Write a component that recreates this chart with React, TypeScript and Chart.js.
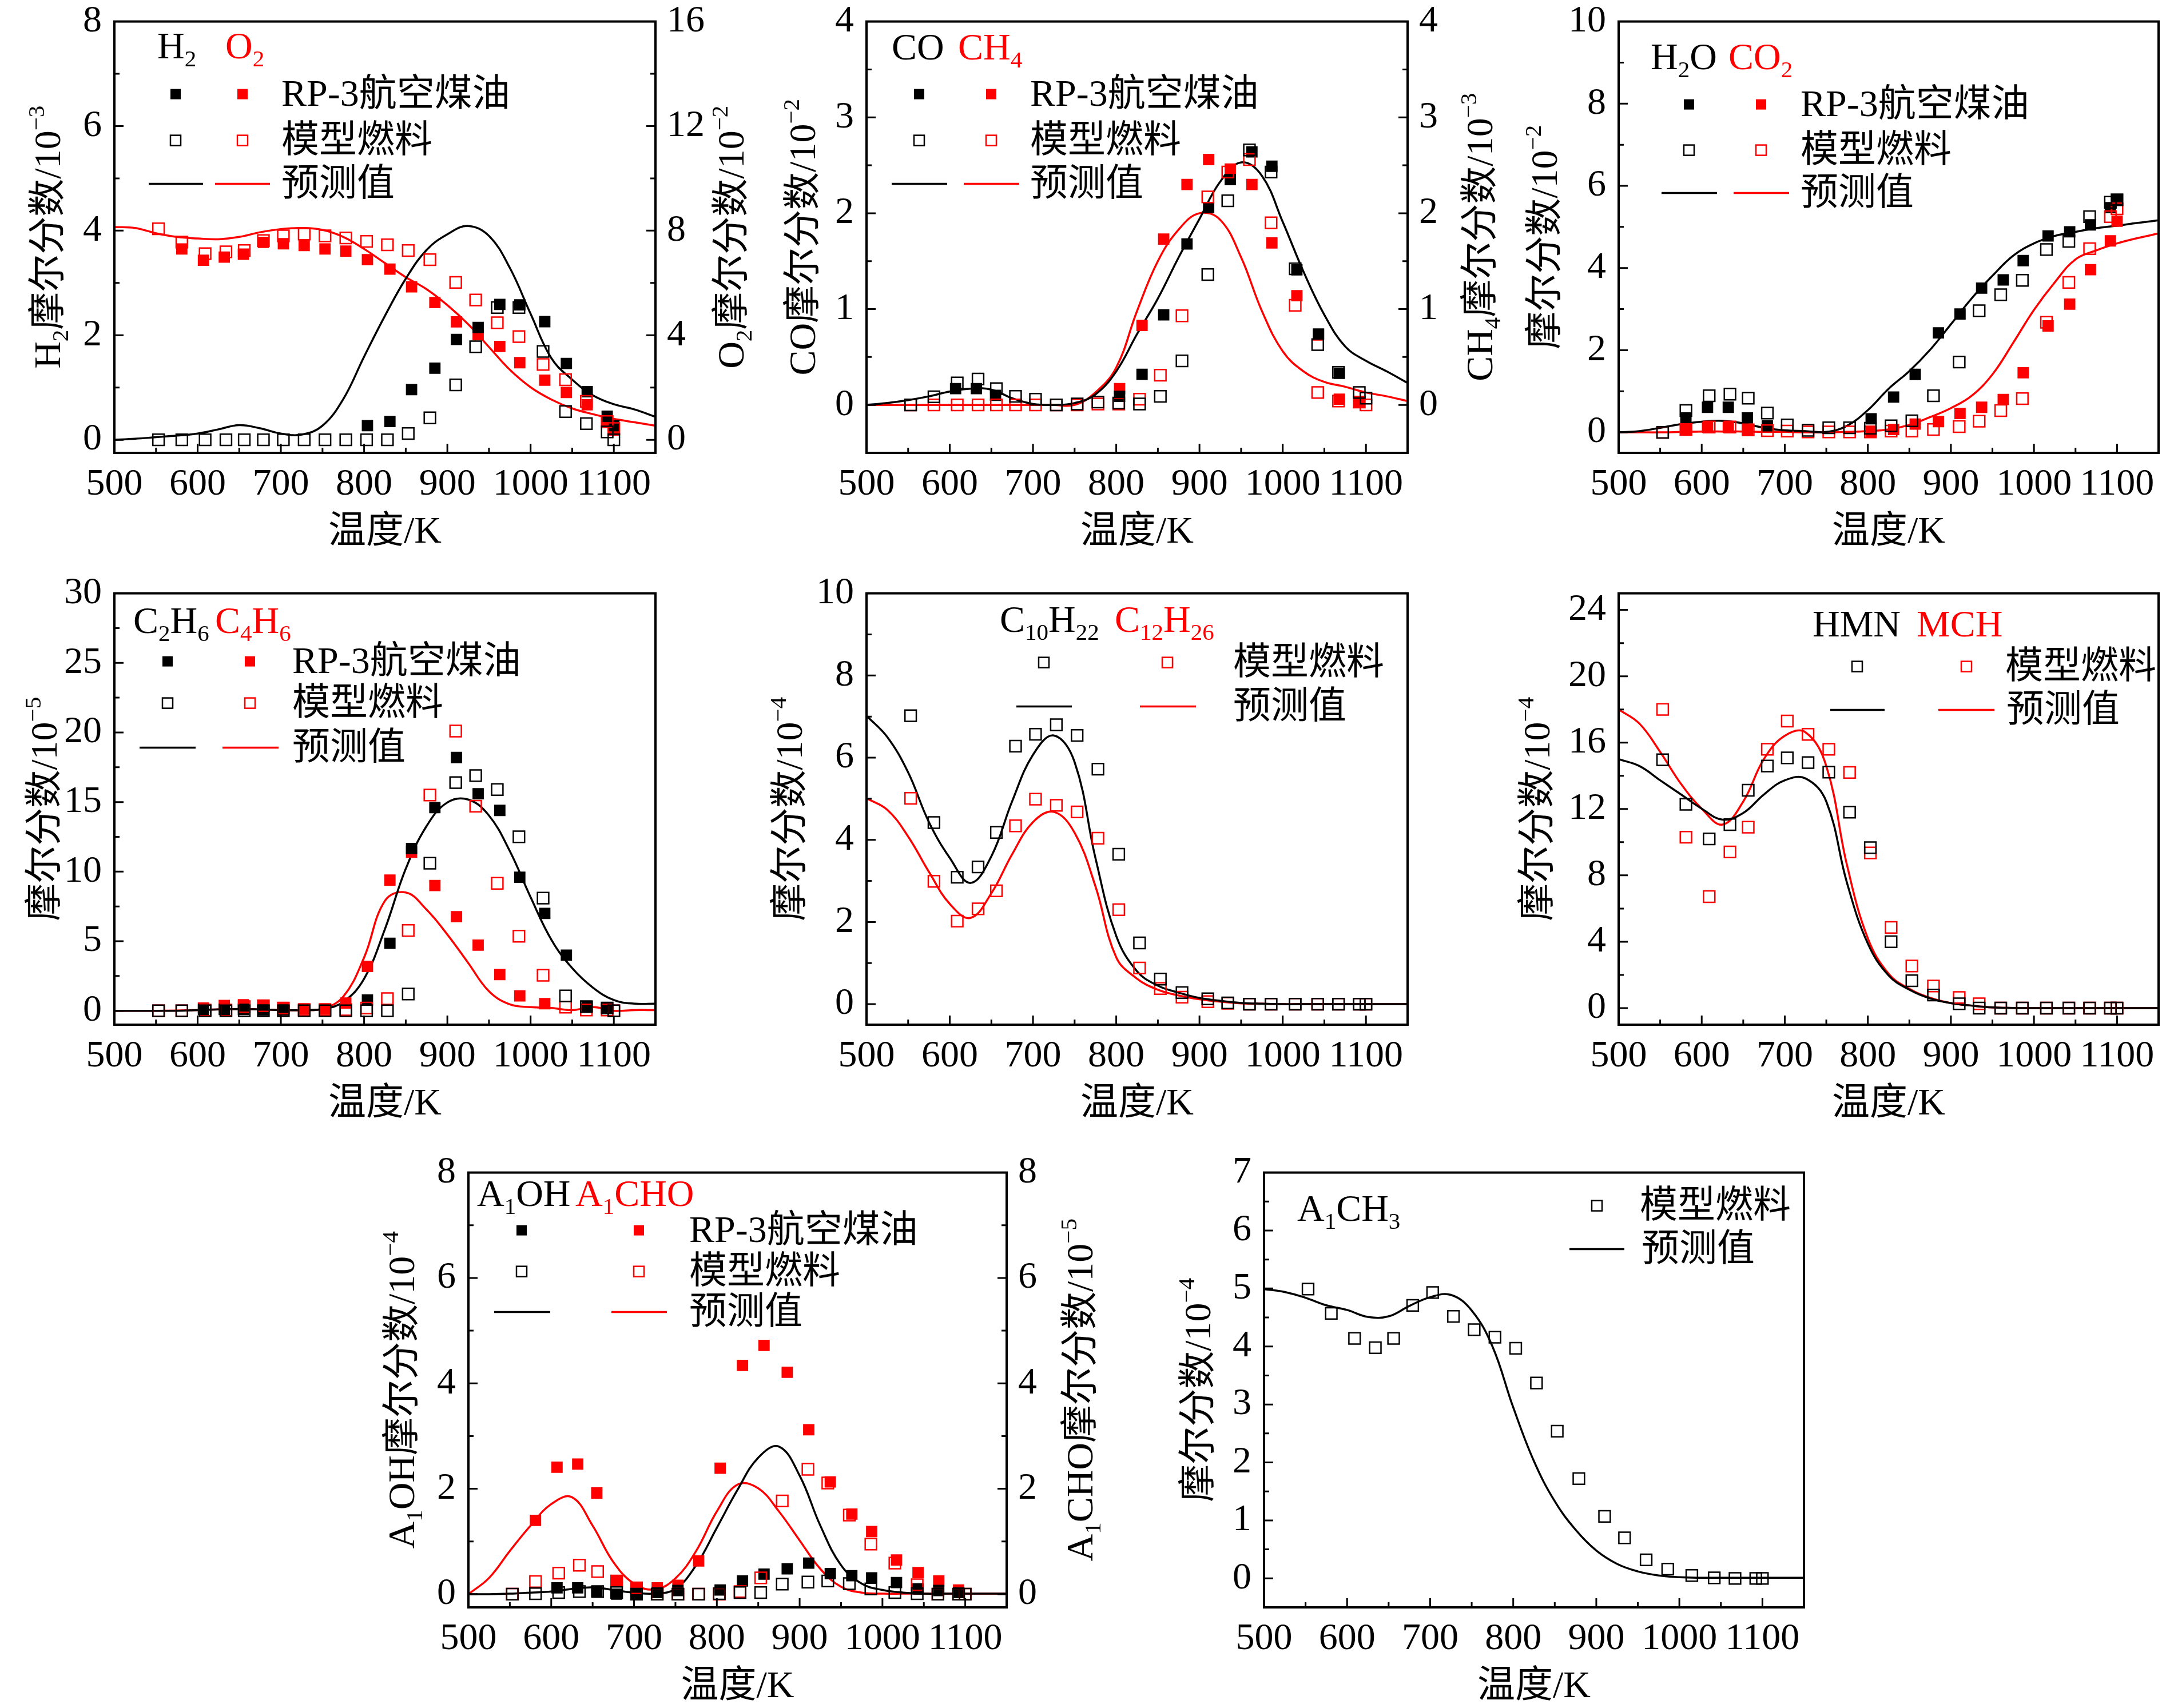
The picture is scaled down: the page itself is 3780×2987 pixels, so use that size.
import React, { useEffect, useRef } from 'react';
import { Chart, registerables } from 'chart.js';

Chart.register(...registerables);

// sample temperatures (K)
const T_MODEL = [553, 581, 609, 634, 656, 679, 703, 728, 753, 778, 803, 828, 853, 879, 910, 934, 960, 986, 1015, 1042, 1067, 1092, 1100];
const T_RP3 = [581, 607, 632, 655, 679, 703, 728, 753, 778, 804, 831, 857, 885, 911, 937, 963, 987, 1017, 1043, 1068, 1092, 1100];
const T_LINE = [500, 525, 550, 575, 600, 625, 650, 675, 700, 725, 750, 775, 800, 825, 850, 875, 900, 925, 950, 975, 1000, 1025, 1050, 1075, 1100, 1125, 1150];
const X_TICKS = [500, 600, 700, 800, 900, 1000, 1100];

// H2 (10^-3) / O2 (10^-2)
const H2_RP3 = [null, null, null, null, null, null, null, null, null, 0.27, 0.35, 0.96, 1.37, 1.92, 2.15, 2.59, 2.58, 2.26, 1.46, 0.92, 0.45, 0.27];
const H2_MODEL = [0, 0, 0, 0, 0, 0, 0, 0, 0, 0, 0, 0, 0.12, 0.42, 1.05, 1.78, 2.53, 2.53, 1.69, 0.54, 0.31, 0.15, 0];
const H2_PRED = [0, 0.02, 0.05, 0.08, 0.12, 0.2, 0.28, 0.22, 0.12, 0.1, 0.27, 0.78, 1.59, 2.37, 3.08, 3.63, 3.93, 4.09, 3.9, 3.29, 2.41, 1.56, 1.15, 0.85, 0.68, 0.58, 0.44];
const O2_RP3 = [7.3, 6.87, 6.99, 7.1, 7.55, 7.5, 7.43, 7.3, 7.22, 6.89, 6.53, 5.85, 5.25, 4.51, 4.02, 3.57, 2.95, 2.28, 1.81, 1.34, 0.67, 0.37];
const O2_MODEL = [8.07, 7.56, 7.12, 7.19, 7.24, 7.62, 7.8, 7.87, 7.8, 7.72, 7.59, 7.46, 7.24, 6.89, 6.02, 5.35, 4.48, 3.95, 2.88, 2.3, 1.47, 0.7, 0.43];
const O2_PRED = [8.14, 8.1, 7.9, 7.76, 7.7, 7.67, 7.76, 7.94, 8.06, 8.1, 8.03, 7.76, 7.3, 6.76, 6.22, 5.76, 5.15, 4.42, 3.55, 2.68, 2.01, 1.54, 1.2, 0.98, 0.8, 0.67, 0.54];

// CO (10^-2) / CH4 (10^-3)
const CO_RP3 = [null, 0.17, 0.17, 0.1, null, null, null, null, null, 0.09, 0.32, 0.94, 1.68, 2.06, 2.35, 2.64, 2.49, 1.41, 0.74, 0.33, null, null];
const CO_MODEL = [0, 0.085, 0.23, 0.27, 0.17, 0.09, 0.06, 0, 0.01, 0.03, 0.02, 0.01, 0.09, 0.46, 1.36, 2.13, 2.66, 2.43, 1.42, 0.63, 0.34, 0.13, 0.07];
const CO_PRED = [0, 0.02, 0.05, 0.09, 0.14, 0.17, 0.16, 0.07, 0.01, 0, 0.02, 0.11, 0.35, 0.74, 1.11, 1.54, 1.94, 2.33, 2.53, 2.39, 1.91, 1.39, 0.94, 0.61, 0.46, 0.35, 0.23];
const CH4_RP3 = [null, null, null, null, null, null, null, null, null, 0.17, 0.83, 1.73, 2.3, 2.56, 2.46, 2.3, 1.69, 1.14, 0.73, 0.06, 0.03, null];
const CH4_MODEL = [0, 0, 0, 0, 0, 0, 0, 0, 0, 0.01, 0.01, 0.06, 0.31, 0.93, 2.17, 2.43, 2.56, 1.9, 1.04, 0.13, 0.04, 0.03, 0];
const CH4_PRED = [0, 0, 0, 0, 0, 0, 0, 0, 0, 0, 0, 0.13, 0.39, 0.98, 1.5, 1.83, 2.0, 1.93, 1.54, 0.98, 0.56, 0.35, 0.24, 0.19, 0.13, 0.09, 0.04];

// H2O / CO2 (10^-2)
const H2O_RP3 = [0.35, 0.61, 0.61, 0.35, 0.16, null, null, null, null, 0.33, 0.86, 1.41, 2.42, 2.88, 3.51, 3.71, 4.18, 4.78, 4.88, 5.05, 5.47, 5.66];
const H2O_MODEL = [0, 0.53, 0.89, 0.93, 0.83, 0.47, 0.18, 0.05, 0.11, 0.11, 0.1, 0.16, 0.28, 0.89, 1.71, 2.96, 3.35, 3.7, 4.45, 4.65, 5.25, 5.6, 5.66];
const H2O_PRED = [0, 0.03, 0.11, 0.2, 0.26, 0.28, 0.22, 0.11, 0.05, 0.03, 0.01, 0.16, 0.54, 1.06, 1.49, 2.01, 2.63, 3.26, 3.81, 4.3, 4.6, 4.78, 4.88, 4.97, 5.03, 5.1, 5.16];
const CO2_RP3 = [0.08, 0.12, 0.12, 0.06, null, null, null, null, null, 0.02, 0.07, 0.2, 0.26, 0.46, 0.61, 0.8, 1.45, 2.59, 3.12, 3.96, 4.66, 5.14];
const CO2_MODEL = [0, 0.07, 0.13, 0.13, 0.06, 0.04, 0.03, 0.01, 0.01, 0.01, 0.01, 0.03, 0.03, 0.07, 0.14, 0.27, 0.53, 0.82, 2.68, 3.65, 4.47, 5.25, 5.44];
const CO2_PRED = [0, 0, 0, 0.01, 0.02, 0.02, 0.02, 0.01, 0.01, 0, 0, 0.01, 0.03, 0.07, 0.18, 0.37, 0.59, 0.89, 1.41, 2.18, 2.98, 3.65, 4.21, 4.43, 4.6, 4.73, 4.84];

// C2H6 / C4H6 (10^-5)
const C2H6_RP3 = [null, 0.1, 0.1, 0.1, 0.05, 0.05, null, null, null, 0.77, 4.85, 11.66, 14.6, 18.2, 15.6, 14.4, 9.6, 7.0, 4.0, 0.3, 0.2, null];
const C2H6_MODEL = [0, 0, 0, 0, 0, 0, 0, 0, 0, 0, 0, 0, 1.2, 10.6, 16.4, 16.9, 15.9, 12.5, 8.1, 1.07, 0.3, 0.2, 0];
const C2H6_PRED = [0, 0, 0, 0, 0.05, 0.1, 0.12, 0.1, 0.05, 0.05, 0.12, 0.64, 2.3, 5.87, 10.2, 13.27, 14.97, 15.18, 14.03, 11.48, 8.16, 5.1, 3.06, 1.66, 0.77, 0.51, 0.51];
const C4H6_RP3 = [null, 0.2, 0.38, 0.43, 0.38, 0.2, 0.13, 0.13, 0.56, 3.19, 9.39, 11.4, 9.0, 6.76, 4.72, 2.6, 1.07, 0.51, null, null, null, null];
const C4H6_MODEL = [0, 0, 0.05, 0.05, 0.3, 0.36, 0.2, 0.08, 0.08, 0.08, 0.2, 0.87, 5.77, 15.5, 20.1, 14.7, 9.16, 5.36, 2.55, 0.26, 0.05, 0.05, 0];
const C4H6_PRED = [0, 0, 0, 0.02, 0.05, 0.1, 0.13, 0.1, 0.05, 0.05, 0.15, 1.02, 3.83, 7.9, 8.5, 7.27, 5.48, 3.44, 1.4, 0.46, 0.26, 0.2, 0.05, 0.26, 0, 0.05, 0.05];

// C10H22 / C12H26 (10^-4)
const C10_MODEL = [7.02, 4.42, 3.09, 3.34, 4.18, 6.28, 6.57, 6.8, 6.54, 5.72, 3.65, 1.49, 0.61, 0.28, 0.13, 0.03, 0, 0, 0, 0, 0, 0, 0];
const C10_PRED = [7.02, 6.5, 5.64, 4.43, 3.56, 2.95, 3.6, 4.94, 6.07, 6.54, 5.89, 3.56, 1.66, 0.8, 0.45, 0.28, 0.15, 0.08, 0.03, 0.01, 0, 0, 0, 0, 0, 0, 0];
const C12_MODEL = [5.01, 2.99, 2.02, 2.32, 2.76, 4.34, 4.99, 4.84, 4.68, 4.04, 2.3, 0.88, 0.38, 0.17, 0.06, 0.02, 0, 0, 0, 0, 0, 0, 0];
const C12_PRED = [5.01, 4.73, 4.08, 3.22, 2.44, 2.1, 2.7, 3.65, 4.43, 4.68, 4.17, 2.87, 1.14, 0.62, 0.35, 0.21, 0.12, 0.06, 0.02, 0.01, 0, 0, 0, 0, 0, 0, 0];

// HMN / MCH (10^-4)
const HMN_MODEL = [14.97, 12.28, 10.2, 11.06, 13.13, 14.59, 15.08, 14.8, 14.22, 11.81, 9.67, 4.0, 1.65, 0.79, 0.26, 0, 0, 0, 0, 0, 0, 0, 0];
const HMN_PRED = [15.0, 14.59, 13.73, 12.88, 12.02, 11.36, 11.76, 12.88, 13.73, 13.84, 12.45, 7.53, 3.89, 1.97, 1.11, 0.58, 0.3, 0.15, 0.04, 0.01, 0, 0, 0, 0, 0, 0, 0];
const MCH_MODEL = [18.0, 10.3, 6.72, 9.41, 10.9, 15.6, 17.3, 16.5, 15.6, 14.2, 9.35, 4.86, 2.54, 1.33, 0.64, 0.26, 0, 0, 0, 0, 0, 0, 0];
const MCH_PRED = [18.0, 17.15, 15.44, 13.52, 12.02, 11.06, 12.45, 15.02, 16.41, 16.62, 14.59, 8.6, 4.21, 2.07, 1.16, 0.62, 0.3, 0.15, 0.04, 0.01, 0, 0, 0, 0, 0, 0, 0];

// A1OH (10^-4) / A1CHO (10^-5)
const A1OH_RP3 = [null, 0.12, 0.12, 0.05, 0, 0.01, 0.03, 0.07, null, 0.08, 0.25, 0.38, 0.48, 0.59, 0.39, 0.35, 0.31, 0.22, 0.1, 0.07, 0.03, null];
const A1OH_MODEL = [0, 0.01, 0.03, 0.05, 0.05, 0.03, 0, 0, 0, 0, 0.01, 0.03, 0.03, 0.19, 0.23, 0.25, 0.2, 0.1, 0.03, 0.01, 0, 0, 0];
const A1OH_PRED = [0, 0, 0.01, 0.03, 0.05, 0.1, 0.13, 0.08, 0.03, 0.01, 0.1, 0.55, 1.26, 1.98, 2.59, 2.8, 2.25, 1.3, 0.55, 0.2, 0.08, 0.03, 0.01, 0.01, 0.01, 0.01, 0.01];
const A1CHO_RP3 = [1.4, 2.41, 2.47, 1.92, 0.26, 0.12, 0.12, 0.17, 0.63, 2.39, 4.34, 4.72, 4.21, 3.12, 2.13, 1.52, 1.19, 0.65, 0.41, 0.25, 0.08, null];
const A1CHO_MODEL = [0, 0.24, 0.4, 0.55, 0.43, 0.25, 0.12, 0, 0, 0, 0, 0.05, 0.31, 1.77, 2.37, 2.11, 1.5, 0.95, 0.59, 0.18, 0, 0, 0];
const A1CHO_PRED = [0, 0.31, 0.82, 1.3, 1.71, 1.84, 1.3, 0.61, 0.2, 0.09, 0.3, 0.82, 1.57, 2.08, 2.01, 1.57, 1.02, 0.48, 0.14, 0.03, 0.01, 0.01, 0.01, 0.01, 0.01, 0.01, 0.01];

// A1CH3 (10^-4)
const A1CH3_MODEL = [4.99, 4.57, 4.14, 3.98, 4.14, 4.71, 4.93, 4.52, 4.29, 4.16, 3.97, 3.37, 2.54, 1.72, 1.07, 0.7, 0.32, 0.16, 0.05, 0.01, 0, 0, 0];
const A1CH3_PRED = [4.99, 4.94, 4.84, 4.71, 4.63, 4.51, 4.52, 4.7, 4.85, 4.89, 4.62, 4.0, 2.95, 2.02, 1.33, 0.84, 0.48, 0.25, 0.12, 0.05, 0.02, 0.01, 0.01, 0.01, 0.01, 0.01, 0.01];

const RED = '#ff0000';
const BLACK = '#000000';
const FONT = '"Liberation Serif", "Times New Roman", "Noto Sans CJK SC", serif';
const FS = 66;
const L = 200; // room left of plot
const T = 60; // room above plot
const B = 200; // room below plot
const PR = 14; // point radius

type Seg = { t: string; s?: 'sub' | 'sup' };
const tx = (t: string): Seg => ({ t });
const sb = (t: string): Seg => ({ t, s: 'sub' });
const sp = (t: string): Seg => ({ t, s: 'sup' });

function pts(xs: number[], ys: (number | null)[]) {
  const out: { x: number; y: number }[] = [];
  xs.forEach((x, i) => {
    const y = ys[i];
    if (y !== null && y !== undefined) out.push({ x, y });
  });
  return out;
}
const hollow = (xs: number[], ys: any[], c: string, axis = 'y') => ({
  data: pts(xs, ys), showLine: false, pointStyle: 'rect', pointRadius: PR,
  pointBorderWidth: 2.5, pointBorderColor: c, pointBackgroundColor: 'rgba(0,0,0,0)', yAxisID: axis,
});
const filled = (xs: number[], ys: any[], c: string, axis = 'y') => ({
  data: pts(xs, ys), showLine: false, pointStyle: 'rect', pointRadius: PR,
  pointBorderWidth: 0, pointBackgroundColor: c, yAxisID: axis,
});
const curve = (ys: number[], c: string, axis = 'y') => ({
  data: pts(T_LINE, ys), borderColor: c, borderWidth: 3.5, pointRadius: 0, tension: 0.4, fill: false, yAxisID: axis,
});

const segFont = (size: number, g: Seg) => `${g.s ? Math.round(size * 0.62) : size}px ${FONT}`;
function richWidth(ctx: CanvasRenderingContext2D, segs: Seg[], size: number) {
  let w = 0;
  for (const g of segs) { ctx.font = segFont(size, g); w += ctx.measureText(g.t).width; }
  return w;
}
function drawRich(ctx: CanvasRenderingContext2D, x: number, y: number, segs: Seg[], size: number, color: string, center = false) {
  let cx = center ? x - richWidth(ctx, segs, size) / 2 : x;
  ctx.fillStyle = color;
  ctx.textAlign = 'left';
  ctx.textBaseline = 'alphabetic';
  for (const g of segs) {
    ctx.font = segFont(size, g);
    const dy = g.s === 'sub' ? size * 0.22 : g.s === 'sup' ? -size * 0.42 : 0;
    ctx.fillText(g.t, cx, y + dy);
    cx += ctx.measureText(g.t).width;
  }
}

const row3 = (ys: number[], cols: number[], lineX: number[][], textX: number) => [
  { y: ys[0], marks: [{ k: 'f', x: cols[0], c: BLACK }, { k: 'f', x: cols[1], c: RED }], text: 'RP-3航空煤油', tx: textX },
  { y: ys[1], marks: [{ k: 'h', x: cols[0], c: BLACK }, { k: 'h', x: cols[1], c: RED }], text: '模型燃料', tx: textX },
  { y: ys[2], marks: [{ k: 'l', x: lineX[0][0], x2: lineX[0][1], c: BLACK }, { k: 'l', x: lineX[1][0], x2: lineX[1][1], c: RED }], text: '预测值', tx: textX },
];

const fuelSets = (bm: any[], rm: any[], bf: any[] | null, rf: any[] | null, bp: number[], rp: number[], rAxis = 'y') => {
  const ds: any[] = [hollow(T_MODEL, bm, BLACK), hollow(T_MODEL, rm, RED, rAxis)];
  if (bf) ds.push(filled(T_RP3, bf, BLACK));
  if (rf) ds.push(filled(T_RP3, rf, RED, rAxis));
  ds.push(curve(bp, BLACK), curve(rp, RED, rAxis));
  return ds;
};

const PANELS: any[] = [
  {
    left: 200, right: 1146, top: 36, bottom: 792,
    y: { min: -0.25, max: 8, step: 2 }, y2: { min: -0.5, max: 16, step: 4 },
    yTitle: [tx('H'), sb('2'), tx('摩尔分数/10'), sp('−3')], yTitleX: -117,
    y2Title: [tx('O'), sb('2'), tx('摩尔分数/10'), sp('−2')], y2TitleX: 132,
    species: { y: 64, items: [{ x: 75, segs: [tx('H'), sb('2')], c: BLACK }, { x: 194, segs: [tx('O'), sb('2')], c: RED }] },
    rows: row3([127, 208, 284], [107, 224], [[60, 155], [176, 272]], 292),
    datasets: fuelSets(H2_MODEL, O2_MODEL, H2_RP3, O2_RP3, H2_PRED, O2_PRED, 'y2'),
  },
  {
    left: 1515, right: 2461, top: 36, bottom: 792,
    y: { min: -0.5, max: 4, step: 1 }, y2: { min: -0.5, max: 4, step: 1 },
    yTitle: [tx('CO摩尔分数/10'), sp('−2')], yTitleX: -112,
    y2Title: [tx('CH'), sb('4'), tx('摩尔分数/10'), sp('−3')], y2TitleX: 126,
    species: { y: 66, items: [{ x: 44, segs: [tx('CO')], c: BLACK }, { x: 160, segs: [tx('CH'), sb('4')], c: RED }] },
    rows: row3([127, 208, 284], [92, 218], [[44, 141], [170, 267]], 286),
    datasets: fuelSets(CO_MODEL, CH4_MODEL, CO_RP3, CH4_RP3, CO_PRED, CH4_PRED, 'y2'),
  },
  {
    left: 2830, right: 3774, top: 36, bottom: 792,
    y: { min: -0.5, max: 10, step: 2 },
    yTitle: [tx('摩尔分数/10'), sp('−2')], yTitleX: -130,
    species: { y: 83, items: [{ x: 56, segs: [tx('H'), sb('2'), tx('O')], c: BLACK }, { x: 192, segs: [tx('CO'), sb('2')], c: RED }] },
    rows: row3([145, 225, 300], [123, 249], [[75, 172], [201, 298]], 318),
    datasets: fuelSets(H2O_MODEL, CO2_MODEL, H2O_RP3, CO2_RP3, H2O_PRED, CO2_PRED),
  },
  {
    left: 200, right: 1146, top: 1036, bottom: 1792,
    y: { min: -1, max: 30, step: 5 },
    yTitle: [tx('摩尔分数/10'), sp('−5')], yTitleX: -123,
    species: { y: 69, items: [{ x: 33, segs: [tx('C'), sb('2'), tx('H'), sb('6')], c: BLACK }, { x: 176, segs: [tx('C'), sb('4'), tx('H'), sb('6')], c: RED }] },
    rows: row3([119, 192, 270], [93, 237], [[44, 142], [189, 287]], 311),
    datasets: fuelSets(C2H6_MODEL, C4H6_MODEL, C2H6_RP3, C4H6_RP3, C2H6_PRED, C4H6_PRED),
  },
  {
    left: 1515, right: 2461, top: 1036, bottom: 1792,
    y: { min: -0.5, max: 10, step: 2 },
    yTitle: [tx('摩尔分数/10'), sp('−4')], yTitleX: -135,
    species: { y: 67, items: [{ x: 233, segs: [tx('C'), sb('10'), tx('H'), sb('22')], c: BLACK }, { x: 434, segs: [tx('C'), sb('12'), tx('H'), sb('26')], c: RED }] },
    rows: [
      { y: 121, marks: [{ k: 'h', x: 310, c: BLACK }, { k: 'h', x: 526, c: RED }], text: '模型燃料', tx: 641 },
      { y: 198, marks: [{ k: 'l', x: 262, x2: 359, c: BLACK }, { k: 'l', x: 478, x2: 576, c: RED }], text: '预测值', tx: 641 },
    ],
    datasets: fuelSets(C10_MODEL, C12_MODEL, null, null, C10_PRED, C12_PRED),
  },
  {
    left: 2830, right: 3774, top: 1036, bottom: 1792,
    y: { min: -1, max: 25, step: 4 },
    yTitle: [tx('摩尔分数/10'), sp('−4')], yTitleX: -143,
    species: { y: 75, items: [{ x: 339, segs: [tx('HMN')], c: BLACK }, { x: 521, segs: [tx('MCH')], c: RED }] },
    rows: [
      { y: 128, marks: [{ k: 'h', x: 417, c: BLACK }, { k: 'h', x: 608, c: RED }], text: '模型燃料', tx: 676 },
      { y: 204, marks: [{ k: 'l', x: 370, x2: 465, c: BLACK }, { k: 'l', x: 559, x2: 657, c: RED }], text: '预测值', tx: 678 },
    ],
    datasets: fuelSets(HMN_MODEL, MCH_MODEL, null, null, HMN_PRED, MCH_PRED),
  },
  {
    left: 819, right: 1760, top: 2049, bottom: 2811,
    y: { min: -0.25, max: 8, step: 2 }, y2: { min: -0.25, max: 8, step: 2 },
    yTitle: [tx('A'), sb('1'), tx('OH摩尔分数/10'), sp('−4')], yTitleX: -117,
    y2Title: [tx('A'), sb('1'), tx('CHO摩尔分数/10'), sp('−5')], y2TitleX: 128,
    species: { y: 58, items: [{ x: 15, segs: [tx('A'), sb('1'), tx('OH')], c: BLACK }, { x: 187, segs: [tx('A'), sb('1'), tx('CHO')], c: RED }] },
    rows: row3([101, 173, 244], [93, 298], [[45, 143], [250, 347]], 386),
    datasets: fuelSets(A1OH_MODEL, A1CHO_MODEL, A1OH_RP3, A1CHO_RP3, A1OH_PRED, A1CHO_PRED, 'y2'),
  },
  {
    left: 2210, right: 3154, top: 2049, bottom: 2811,
    y: { min: -0.5, max: 7, step: 1 },
    yTitle: [tx('摩尔分数/10'), sp('−4')], yTitleX: -116,
    species: { y: 84, items: [{ x: 58, segs: [tx('A'), sb('1'), tx('CH'), sb('3')], c: BLACK }] },
    rows: [
      { y: 58, marks: [{ k: 'h', x: 582, c: BLACK }], text: '模型燃料', tx: 657 },
      { y: 134, marks: [{ k: 'l', x: 534, x2: 630, c: BLACK }], text: '预测值', tx: 660 },
    ],
    datasets: [hollow(T_MODEL, A1CH3_MODEL, BLACK), curve(A1CH3_PRED, BLACK)],
  },
];

function inwardTicks(chart: any, id: string, side: string, step: number) {
  const s = chart.scales[id];
  if (!s) return;
  const a = chart.chartArea;
  const ctx = chart.ctx;
  const minor = step / 2;
  const first = Math.ceil(s.min / minor - 1e-9);
  const last = Math.floor(s.max / minor + 1e-9);
  ctx.beginPath();
  for (let k = first; k <= last; k++) {
    const len = k % 2 === 0 ? 16 : 9;
    const p = s.getPixelForValue(k * minor);
    if (side === 'bottom') { ctx.moveTo(p, a.bottom); ctx.lineTo(p, a.bottom - len); }
    else if (side === 'left') { ctx.moveTo(a.left, p); ctx.lineTo(a.left + len, p); }
    else { ctx.moveTo(a.right, p); ctx.lineTo(a.right - len, p); }
  }
  ctx.stroke();
}

function decor(cfg: any) {
  return {
    id: 'decor',
    afterDatasetsDraw(chart: any) {
      const ctx = chart.ctx;
      const a = chart.chartArea;
      ctx.save();
      ctx.strokeStyle = BLACK;
      ctx.lineWidth = 3;
      inwardTicks(chart, 'x', 'bottom', 100);
      inwardTicks(chart, 'y', 'left', cfg.y.step);
      if (cfg.y2) inwardTicks(chart, 'y2', 'right', cfg.y2.step);
      ctx.lineWidth = 4;
      ctx.strokeRect(a.left, a.top, a.right - a.left, a.bottom - a.top);
      ctx.restore();
    },
    afterDraw(chart: any) {
      const ctx = chart.ctx;
      const a = chart.chartArea;
      const midY = (a.top + a.bottom) / 2;
      ctx.save();
      // rotated y titles
      const titles = [[cfg.yTitle, a.left + cfg.yTitleX]];
      if (cfg.y2Title) titles.push([cfg.y2Title, a.right + cfg.y2TitleX]);
      for (const [segs, cx] of titles) {
        ctx.save();
        ctx.translate(cx, midY);
        ctx.rotate(-Math.PI / 2);
        drawRich(ctx, 0, FS * 0.33, segs, FS, BLACK, true);
        ctx.restore();
      }
      // species names
      for (const it of cfg.species.items) drawRich(ctx, a.left + it.x, a.top + cfg.species.y, it.segs, FS, it.c);
      // legend rows
      for (const r of cfg.rows) {
        const y = a.top + r.y;
        for (const m of r.marks) {
          const x = a.left + m.x;
          if (m.k === 'f') { ctx.fillStyle = m.c; ctx.fillRect(x - 9, y - 9, 18, 18); }
          else if (m.k === 'h') { ctx.strokeStyle = m.c; ctx.lineWidth = 2.5; ctx.strokeRect(x - 9, y - 9, 18, 18); }
          else {
            ctx.strokeStyle = m.c; ctx.lineWidth = 3.5;
            ctx.beginPath(); ctx.moveTo(x, y); ctx.lineTo(a.left + m.x2, y); ctx.stroke();
          }
        }
        ctx.fillStyle = BLACK;
        ctx.font = `${FS}px ${FONT}`;
        ctx.textAlign = 'left';
        ctx.textBaseline = 'middle';
        ctx.fillText(r.text, a.left + r.tx, y + 3);
      }
      ctx.restore();
    },
  };
}

const tickFont = { family: FONT, size: FS };

function yScale(ax: any, pos: string) {
  return {
    type: 'linear', position: pos, min: ax.min, max: ax.max,
    ticks: { stepSize: ax.step, includeBounds: false, padding: pos === 'left' ? 22 : 20, font: tickFont, color: BLACK, callback: (v: any) => String(v) },
    grid: { display: false, drawTicks: false },
    border: { display: false },
    afterFit: (s: any) => { s.width = pos === 'left' ? L : 200; },
  };
}

function PanelChart({ cfg }: { cfg: any }) {
  const canvasRef = useRef<HTMLCanvasElement | null>(null);
  const R = cfg.y2 ? 200 : 60;
  const w = cfg.right - cfg.left + L + R;
  const h = cfg.bottom - cfg.top + T + B;

  useEffect(() => {
    if (!canvasRef.current) return;
    const scales: any = {
      x: {
        type: 'linear', position: 'bottom', min: 500, max: 1150,
        afterBuildTicks: (s: any) => { s.ticks = X_TICKS.map((v) => ({ value: v })); },
        ticks: { padding: 16, font: tickFont, color: BLACK, maxRotation: 0, autoSkip: false, callback: (v: any) => String(v) },
        grid: { display: false, drawTicks: false },
        border: { display: false },
        title: { display: true, text: '温度/K', font: tickFont, color: BLACK, padding: { top: 0, bottom: 21 } },
        afterFit: (s: any) => { s.height = B; },
      },
      y: yScale(cfg.y, 'left'),
    };
    if (cfg.y2) scales.y2 = yScale(cfg.y2, 'right');

    const chart = new Chart(canvasRef.current, {
      type: 'line',
      data: { datasets: cfg.datasets },
      options: {
        animation: false,
        responsive: false,
        devicePixelRatio: 1,
        events: [],
        layout: { padding: { top: T, left: 0, bottom: 0, right: cfg.y2 ? 0 : R } },
        plugins: { legend: { display: false }, tooltip: { enabled: false } },
        scales,
      } as any,
      plugins: [decor(cfg)],
    });
    return () => chart.destroy();
  }, [cfg]);

  return (
    <canvas
      ref={canvasRef}
      width={w}
      height={h}
      style={{ position: 'absolute', left: cfg.left - L, top: cfg.top - T, width: w, height: h }}
    />
  );
}

export default function App() {
  return (
    <div style={{ position: 'absolute', left: 0, top: 0, width: 3780, height: 2987, background: '#fff', overflow: 'hidden' }}>
      {PANELS.map((p, i) => <PanelChart key={i} cfg={p} />)}
    </div>
  );
}
